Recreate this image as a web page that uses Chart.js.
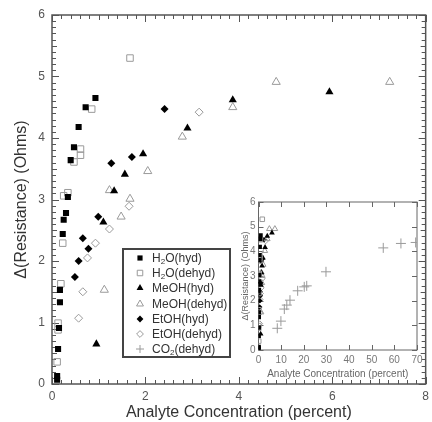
<!DOCTYPE html>
<html><head><meta charset="utf-8">
<script src="https://cdn.jsdelivr.net/npm/chart.js@4/dist/chart.umd.min.js"></script>
<style>
html,body{margin:0;padding:0;background:#fff;overflow:hidden;width:432px;height:422px;}
#wrap{position:relative;width:432px;height:422px;overflow:hidden;}
#main{position:absolute;left:0;top:0;}
#inset{position:absolute;left:236px;top:192px;}
#legend{position:absolute;left:122px;top:248px;width:109px;height:110px;border:2px solid #444;background:#fff;
  font:12px "Liberation Sans",Arial,sans-serif;color:#333;box-sizing:border-box;padding-top:0px;}
.row{height:15.3px;display:flex;align-items:center;white-space:nowrap;}
.row canvas{margin-left:10px;margin-right:6px;}
sub{font-size:8px;vertical-align:-2px;line-height:0;}
</style></head>
<body><div id="wrap">
<canvas id="main" width="434" height="422"></canvas>
<canvas id="inset" width="196" height="192"></canvas>
<div id="legend"></div>
</div>
<script>
// ---------------- data ----------------
const seriesLabels = ['H2O(hyd)','H2O(dehyd)','MeOH(hyd)','MeOH(dehyd)','EtOH(hyd)','EtOH(dehyd)','CO2(dehyd)'];

const h2oHydX = [0.93,0.72,0.57,0.47,0.40,0.34,0.30,0.25,0.23,0.17,0.17,0.15,0.13,0.11,0.11];
const h2oHydY = [4.65,4.50,4.18,3.85,3.64,3.04,2.78,2.67,2.44,1.53,1.33,0.91,0.57,0.13,0.07];

const h2oDehX = [1.67,0.85,0.61,0.61,0.47,0.34,0.25,0.23,0.19,0.13,0.13,0.11];
const h2oDehY = [5.30,4.47,3.82,3.72,3.61,3.11,3.06,2.29,1.63,0.99,0.88,0.36];

const meohHydX = [3.87,5.94,2.90,1.95,1.56,1.33,1.10,0.95];
const meohHydY = [4.62,4.75,4.16,3.74,3.41,3.14,2.63,0.65];

const meohDehX = [4.80,7.23,3.87,2.79,2.05,1.23,1.67,1.48,1.12];
const meohDehY = [4.91,4.91,4.50,4.02,3.46,3.15,3.01,2.72,1.53];

const etohHydX = [2.41,1.71,1.27,0.99,0.66,0.78,0.57,0.49];
const etohHydY = [4.47,3.69,3.59,2.72,2.37,2.20,2.00,1.74];

const etohDehX = [3.15,1.65,1.23,0.93,0.76,0.66,0.57];
const etohDehY = [4.42,2.89,2.52,2.29,2.05,1.50,1.07];

const co2DehX = [8.3,9.9,11.4,12.5,13.9,17.3,20.2,21.3,29.8,55.1,62.9,69.4];
const co2DehY = [0.88,1.17,1.66,1.82,2.02,2.40,2.56,2.60,3.17,4.14,4.32,4.36];

const mainXTicks = [0,2,4,6,8];
const mainYTicks = [0,1,2,3,4,5,6];
const insetXTicks = [0,10,20,30,40,50,60,70];
const insetYTicks = [0,1,2,3,4,5,6];

// ---------------- styles ----------------
const seriesXs = [h2oHydX,h2oDehX,meohHydX,meohDehX,etohHydX,etohDehX,co2DehX];
const seriesYs = [h2oHydY,h2oDehY,meohHydY,meohDehY,etohHydY,etohDehY,co2DehY];
const styleTable = [
  {style:'rect',     filled:true,  r:4.3},
  {style:'rect',     filled:false, r:4.6},
  {style:'triangle', filled:true,  r:4.7},
  {style:'triangle', filled:false, r:4.7},
  {style:'rectRot',  filled:true,  r:4.0},
  {style:'rectRot',  filled:false, r:4.0},
  {style:'cross',    filled:false, r:5.0}
];
const GRAY = '#9a9a9a';

function buildDatasets(scale, crossR) {
  return seriesLabels.map((lab, i) => {
    const st = styleTable[i];
    const r = st.style === 'cross' ? crossR : st.r * scale;
    return {
      label: lab,
      data: seriesXs[i].map((v, j) => ({x: v, y: seriesYs[i][j]})),
      showLine: false,
      pointStyle: st.style,
      pointRadius: r,
      pointHoverRadius: r,
      pointBackgroundColor: st.filled ? '#000' : 'rgba(255,255,255,0)',
      pointBorderColor: st.filled ? '#000' : GRAY,
      pointBorderWidth: st.filled ? 0 : 1
    };
  });
}

const frameTicks = {
  id: 'frameTicks',
  beforeDatasetsDraw(chart, args, o) {
    const {ctx, chartArea: a, scales: {x, y}} = chart;
    ctx.save();
    ctx.strokeStyle = o.color;
    ctx.lineWidth = o.tickWidth;
    ctx.beginPath();
    const isMult = (v, m) => Math.abs(v / m - Math.round(v / m)) < 1e-6;
    const nx = Math.round((x.max - x.min) / o.xMinor);
    for (let i = 0; i <= nx; i++) {
      const v = x.min + i * o.xMinor;
      const px = Math.round(x.getPixelForValue(v)) + 0.5;
      const L = isMult(v, o.xMajor) ? o.majorLen : (o.xMid && isMult(v, o.xMid) ? o.midLen : o.minorLen);
      ctx.moveTo(px, a.bottom); ctx.lineTo(px, a.bottom - L);
      ctx.moveTo(px, a.top); ctx.lineTo(px, a.top + L);
    }
    const ny = Math.round((y.max - y.min) / o.yMinor);
    for (let i = 0; i <= ny; i++) {
      const v = y.min + i * o.yMinor;
      const py = Math.round(y.getPixelForValue(v)) + 0.5;
      const L = isMult(v, o.yMajor) ? o.majorLen : (o.yMid && isMult(v, o.yMid) ? o.midLen : o.minorLen);
      ctx.moveTo(a.left, py); ctx.lineTo(a.left + L, py);
      ctx.moveTo(a.right, py); ctx.lineTo(a.right - L, py);
    }
    ctx.stroke();
    ctx.lineWidth = o.lineWidth;
    ctx.strokeRect(a.left, a.top, a.right - a.left, a.bottom - a.top);
    ctx.restore();
  }
};

const FONT = '"Liberation Sans", Arial, sans-serif';

new Chart(document.getElementById('main'), {
  type: 'scatter',
  data: {datasets: buildDatasets(1, 5)},
  plugins: [frameTicks],
  options: {
    responsive: false, animation: false, events: [],
    layout: {padding: {top: 15, right: 0, bottom: 0, left: 0}},
    plugins: {
      legend: {display: false}, tooltip: {enabled: false},
      frameTicks: {color: '#555', lineWidth: 1.5, tickWidth: 1, xMajor: 2, xMinor: 0.2, xMid: 1,
                   yMajor: 1, yMinor: 0.1, yMid: 0.5, majorLen: 7, midLen: 5, minorLen: 4}
    },
    scales: {
      x: {
        type: 'linear', min: 0, max: 8,
        afterFit: s => { s.height = 38; },
        afterBuildTicks: s => { s.ticks = mainXTicks.map(v => ({value: v})); },
        grid: {display: false, drawTicks: false}, border: {display: false},
        ticks: {padding: 5, color: '#555', font: {family: FONT, size: 12}},
        title: {display: true, text: 'Analyte Concentration (percent)', color: '#333',
                font: {family: FONT, size: 16}, padding: {top: 0, bottom: 0}}
      },
      y: {
        type: 'linear', min: 0, max: 6,
        afterFit: s => { s.width = 52; },
        afterBuildTicks: s => { s.ticks = mainYTicks.map(v => ({value: v})); },
        grid: {display: false, drawTicks: false}, border: {display: false},
        ticks: {padding: 7, color: '#555', font: {family: FONT, size: 12}},
        title: {display: true, text: 'Δ(Resistance) (Ohms)', color: '#333',
                font: {family: FONT, size: 16}, padding: {top: 12, bottom: 0}}
      }
    }
  }
});

new Chart(document.getElementById('inset'), {
  type: 'scatter',
  data: {datasets: buildDatasets(0.7, 5)},
  plugins: [frameTicks],
  options: {
    responsive: false, animation: false, events: [],
    layout: {padding: {top: 10, right: 15, bottom: 0, left: 0}},
    plugins: {
      legend: {display: false}, tooltip: {enabled: false},
      frameTicks: {color: '#666', lineWidth: 1, tickWidth: 1, xMajor: 10, xMinor: 10,
                   yMajor: 1, yMinor: 1, majorLen: 5, minorLen: 5}
    },
    scales: {
      x: {
        type: 'linear', min: 0, max: 70,
        afterFit: s => { s.height = 34; },
        afterBuildTicks: s => { s.ticks = insetXTicks.map(v => ({value: v})); },
        grid: {display: false, drawTicks: false}, border: {display: false},
        ticks: {padding: 4, color: '#777', font: {family: FONT, size: 10}},
        title: {display: true, text: 'Analyte Concentration (percent)', color: '#666',
                font: {family: FONT, size: 10}, padding: {top: 0, bottom: 4}}
      },
      y: {
        type: 'linear', min: 0, max: 6,
        afterFit: s => { s.width = 22.5; },
        afterBuildTicks: s => { s.ticks = insetYTicks.map(v => ({value: v})); },
        grid: {display: false, drawTicks: false}, border: {display: false},
        ticks: {padding: 3, color: '#777', font: {family: FONT, size: 10}},
        title: {display: true, text: 'Δ(Resistance) (Ohms)', color: '#666',
                font: {family: FONT, size: 9}, padding: {top: 4, bottom: 0}}
      }
    }
  }
});

// ---------------- legend (HTML, icons drawn with Chart.js point helper) ----------------
const legend = document.getElementById('legend');
seriesLabels.forEach((lab, i) => {
  const st = styleTable[i];
  const row = document.createElement('div');
  row.className = 'row';
  const c = document.createElement('canvas');
  c.width = 12; c.height = 12;
  const ctx = c.getContext('2d');
  ctx.fillStyle = st.filled ? '#000' : 'rgba(255,255,255,0)';
  ctx.strokeStyle = st.filled ? '#000' : GRAY;
  ctx.lineWidth = st.filled ? 0 : 1;
  const r = st.style === 'cross' ? 4 : st.r * 0.85;
  if (Chart.helpers && Chart.helpers.drawPoint) {
    Chart.helpers.drawPoint(ctx, {pointStyle: st.style, radius: r, borderWidth: st.filled ? 0 : 1, rotation: 0}, 6, 6);
  }
  const span = document.createElement('span');
  span.innerHTML = lab.replace(/([A-Z])2/, '$1<sub>2</sub>');
  row.appendChild(c); row.appendChild(span);
  legend.appendChild(row);
});
</script>
</body></html>
